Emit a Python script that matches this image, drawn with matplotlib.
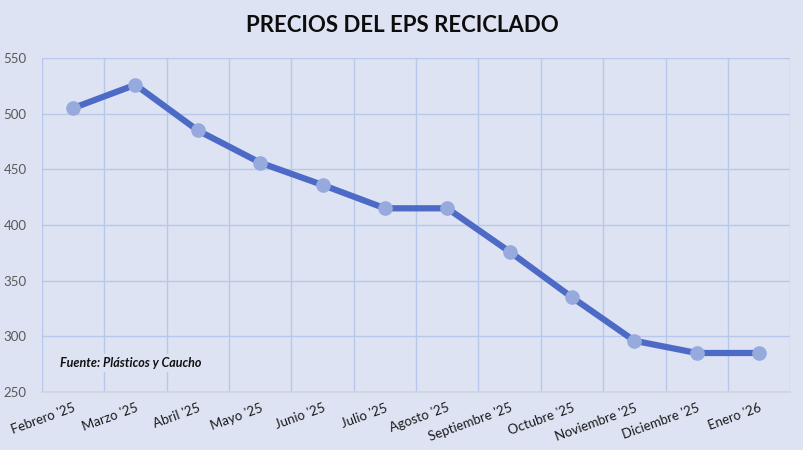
import numpy as np
import matplotlib.pyplot as plt

plt.rcParams['font.family'] = ['Lato', 'DejaVu Sans']

meses = ["Febrero '25", "Marzo '25", "Abril '25", "Mayo '25", "Junio '25",
         "Julio '25", "Agosto '25", "Septiembre '25", "Octubre '25",
         "Noviembre '25", "Diciembre '25", "Enero '26"]
precios = [505, 526, 485, 456, 436, 415, 415, 376, 335, 296, 285, 285]
y_ticks = [250, 300, 350, 400, 450, 500, 550]

bg = '#DDE3F3'
fig = plt.figure(figsize=(8.04, 4.5), dpi=100, facecolor=bg)
ax = fig.add_axes([0.052, 0.129, 0.931, 0.742], facecolor=bg)

x = np.arange(len(meses))
ax.plot(x, precios, color='#4D6BC6', lw=4.5, solid_capstyle='round', zorder=3,
        marker='o', ms=9.5, mfc='#97AADD', mec='#97AADD')

ax.set_xlim(-0.5, len(meses) - 0.5)
ax.set_ylim(250, 550)
ax.set_yticks(y_ticks)
# vertical grid at category boundaries
ax.set_xticks(np.arange(-0.5, len(meses)), minor=True)
ax.set_xticks(x)
ax.set_xticklabels(meses, rotation=20, ha='right', rotation_mode='anchor',
                   fontsize=9.5, color='#1a1a1a')
ax.grid(True, which='minor', axis='x', color='#B7C8EA', lw=1)
ax.grid(True, which='major', axis='y', color='#B7C8EA', lw=1)
ax.tick_params(which='both', length=0)
ax.tick_params(axis='y', labelsize=9.5, labelcolor='#595959', pad=11)
ax.tick_params(axis='x', pad=7)
for s in ['top', 'right', 'left']:
    ax.spines[s].set_visible(False)
ax.spines['bottom'].set_color('#D0D4DC')
ax.spines['bottom'].set_linewidth(1.2)

ax.text(0.024, 0.087, 'Fuente: Plásticos y Caucho', transform=ax.transAxes,
        fontsize=9, fontweight='bold', fontstyle='italic', color='#111111',
        va='center', bbox=dict(facecolor=bg, edgecolor='none', pad=2), zorder=4)

fig.text(0.5, 0.943, 'PRECIOS DEL EPS RECICLADO', ha='center', va='center',
         fontsize=16, fontweight='bold', color='#0d0d0d')

fig.savefig('out.png', dpi=100, facecolor=bg)
